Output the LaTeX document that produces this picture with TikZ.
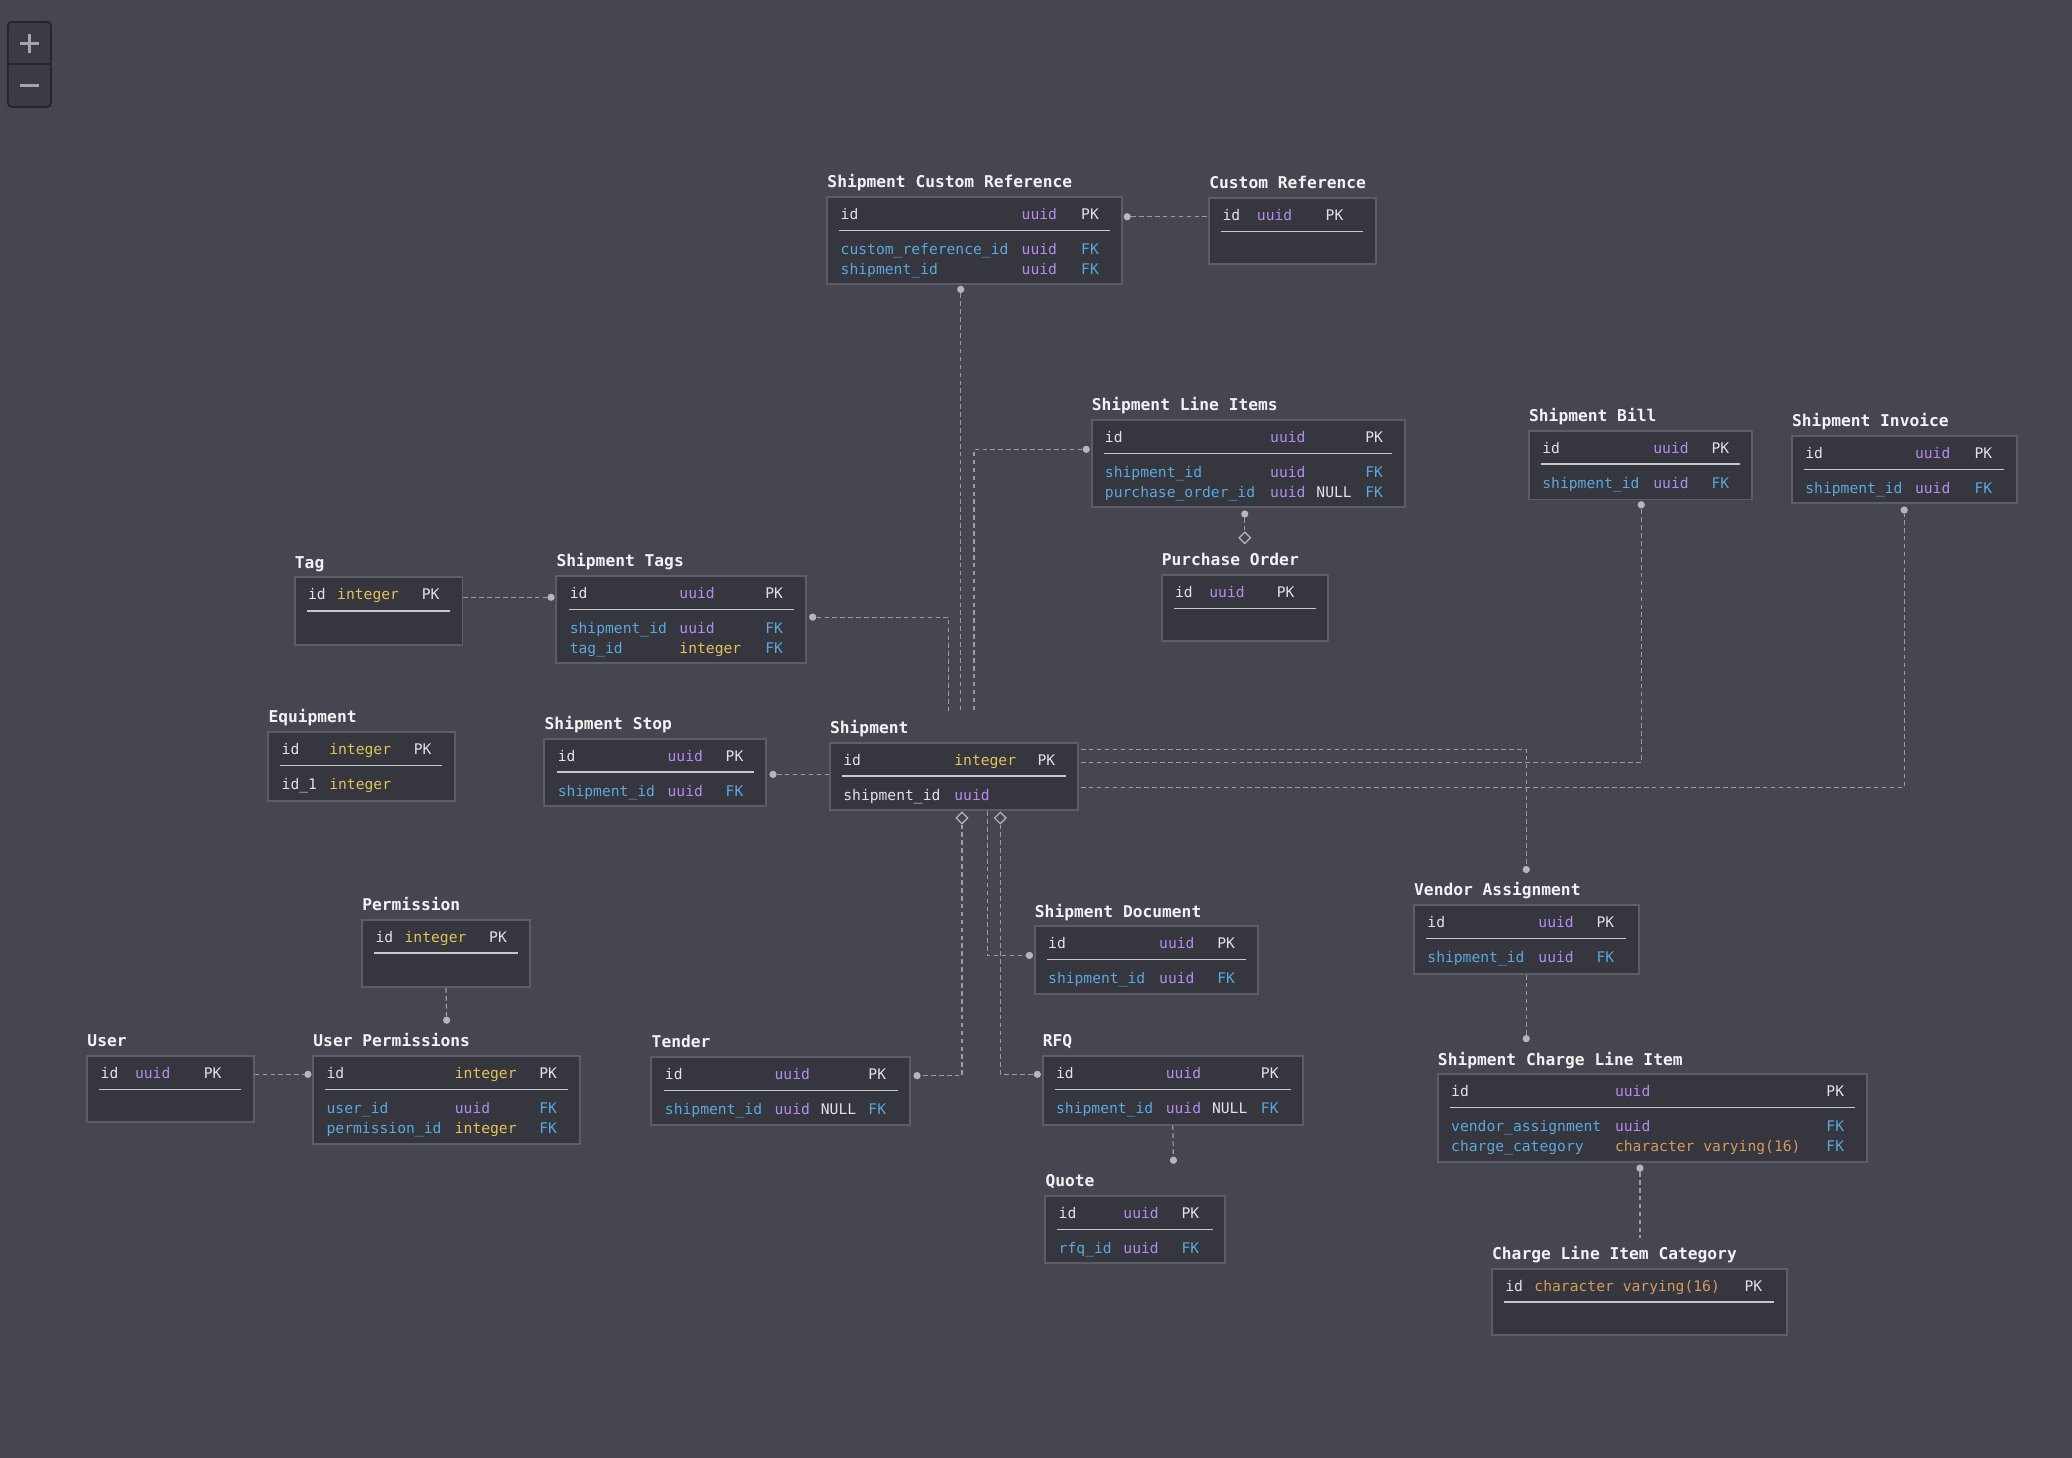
\documentclass[tikz,border=0pt]{standalone}
\usepackage{fontspec}
\setmonofont{DejaVu Sans Mono}
\usetikzlibrary{fit,shapes.geometric}

\definecolor{bgcol}{HTML}{45464F}
\definecolor{boxfill}{HTML}{35363E}
\definecolor{boxedge}{HTML}{5C5D67}
\definecolor{seplinecol}{HTML}{C8C8CC}
\definecolor{ttlcol}{HTML}{F2F2F4}
\definecolor{txt}{HTML}{E2E2E6}
\definecolor{uu}{HTML}{B48CF0}
\definecolor{int}{HTML}{E3C25A}
\definecolor{chr}{HTML}{D69A5E}
\definecolor{fk}{HTML}{5AA8DE}
\definecolor{conncol}{HTML}{9C9CA6}
\definecolor{dotcol}{HTML}{B6B6BE}
\definecolor{zfill}{HTML}{3A3B45}
\definecolor{zedge}{HTML}{26272E}
\definecolor{zsigncol}{HTML}{A4A5AE}

\begin{document}
\begin{tikzpicture}[
  x=1pt, y=-1pt,
  every node/.style = {font=\ttfamily},
  tblbox/.style = {draw=boxedge, fill=boxfill, line width=1.5pt, inner sep=0pt},
  ttl/.style = {anchor=base west, inner sep=0pt, text=ttlcol,
                font=\ttfamily\bfseries\fontsize{12.3}{14}\selectfont},
  rowtxt/.style = {anchor=base west, inner sep=0pt,
                   font=\ttfamily\fontsize{11.1}{13}\selectfont},
  sepline/.style = {draw=seplinecol, line width=1pt},
  conn/.style = {draw=conncol, line width=0.9pt, dash pattern=on 3.5pt off 2.5pt},
  dot/.style = {circle, fill=dotcol, inner sep=0pt, minimum size=5.5pt},
  dmd/.style = {diamond, draw=dotcol, fill=bgcol, line width=0.9pt,
                inner sep=0pt, minimum size=9pt},
  zbtn/.style = {draw=zedge, fill=zfill, line width=1.5pt, rounded corners=3pt, inner sep=0pt},
  zsign/.style = {draw=zsigncol, line width=2.3pt},
]

%% ── Canvas ───────────────────────────────────────────────────────────────────
\fill[bgcol] (0,0) rectangle (1568,1103);
\useasboundingbox (0,0) rectangle (1568,1103);

%% ── Helpers: table box + title + rule, one row, one field ───────────────────
% rows sit 12 / 38.5 / 53.5 below the box top
\def\rA{12}
\def\rB{38.5}
\def\rC{53.5}
\def\tbl#1#2#3#4#5#6{%
  \def\tL{#3}\def\tT{#4}%
  \node[tblbox, fit={(#3,#4) (#5,#6)}] (#1) {};
  \node[ttl] (#1-t) at (#3,#4-7) {#2};
  \draw[sepline] ([xshift=10pt,yshift=-26pt]#1.north west)
    -- ([xshift=-10pt,yshift=-26pt]#1.north east);
}
\def\erow#1#2#3{\node[rowtxt] (#1) at (\tL+10,\tT+#2+5) {#3};}
\def\fld#1#2#3{\makebox[#1pt][l]{\color{#2}#3}}

%% ── Zoom control ─────────────────────────────────────────────────────────────
\node[zbtn, fit={(6,16.5) (38.6,81)}] (zctl) {};
\draw[draw=zedge, line width=1.5pt] (zctl.west) -- (zctl.east);
\draw[zsign] ([xshift=-7pt,yshift=16pt]zctl.center) -- ([xshift=7pt,yshift=16pt]zctl.center);
\draw[zsign] ([yshift=9pt]zctl.center) -- ([yshift=23pt]zctl.center);
\draw[zsign] ([xshift=-7pt,yshift=-16pt]zctl.center) -- ([xshift=7pt,yshift=-16pt]zctl.center);

%% ── Shipment Custom Reference / Custom Reference ────────────────────────────
\tbl{scr}{Shipment Custom Reference}{626}{149}{849}{215}
\erow{scr-1}{\rA}{\fld{137}{txt}{id}\fld{45}{uu}{uuid}\fld{0}{txt}{PK}}
\erow{scr-2}{\rB}{\fld{137}{fk}{custom\_reference\_id}\fld{45}{uu}{uuid}\fld{0}{fk}{FK}}
\erow{scr-3}{\rC}{\fld{137}{fk}{shipment\_id}\fld{45}{uu}{uuid}\fld{0}{fk}{FK}}

\tbl{cref}{Custom Reference}{915}{150}{1041}{200}
\erow{cref-1}{\rA}{\fld{26}{txt}{id}\fld{52}{uu}{uuid}\fld{0}{txt}{PK}}

%% ── Shipment Line Items / Purchase Order ────────────────────────────────────
\tbl{sli}{Shipment Line Items}{826}{318}{1063}{384}
\erow{sli-1}{\rA}{\fld{125}{txt}{id}\fld{72}{uu}{uuid}\fld{0}{txt}{PK}}
\erow{sli-2}{\rB}{\fld{125}{fk}{shipment\_id}\fld{72}{uu}{uuid}\fld{0}{fk}{FK}}
\erow{sli-3}{\rC}{\fld{125}{fk}{purchase\_order\_id}\fld{35}{uu}{uuid}\fld{37}{txt}{NULL}\fld{0}{fk}{FK}}

\tbl{po}{Purchase Order}{879}{435}{1005}{485}
\erow{po-1}{\rA}{\fld{26}{txt}{id}\fld{51}{uu}{uuid}\fld{0}{txt}{PK}}

%% ── Shipment Bill / Shipment Invoice ────────────────────────────────────────
\tbl{sbill}{Shipment Bill}{1157}{326}{1326}{378}
\erow{sbill-1}{\rA}{\fld{84}{txt}{id}\fld{44}{uu}{uuid}\fld{0}{txt}{PK}}
\erow{sbill-2}{\rB}{\fld{84}{fk}{shipment\_id}\fld{44}{uu}{uuid}\fld{0}{fk}{FK}}

\tbl{sinv}{Shipment Invoice}{1356}{330}{1526}{381}
\erow{sinv-1}{\rA}{\fld{83}{txt}{id}\fld{45}{uu}{uuid}\fld{0}{txt}{PK}}
\erow{sinv-2}{\rB}{\fld{83}{fk}{shipment\_id}\fld{45}{uu}{uuid}\fld{0}{fk}{FK}}

%% ── Tag / Shipment Tags ─────────────────────────────────────────────────────
\tbl{tag}{Tag}{223}{437}{350}{488}
\erow{tag-1}{\rA}{\fld{22}{txt}{id}\fld{64}{int}{integer}\fld{0}{txt}{PK}}

\tbl{stags}{Shipment Tags}{421}{436}{610}{502}
\erow{stags-1}{\rA}{\fld{83}{txt}{id}\fld{65}{uu}{uuid}\fld{0}{txt}{PK}}
\erow{stags-2}{\rB}{\fld{83}{fk}{shipment\_id}\fld{65}{uu}{uuid}\fld{0}{fk}{FK}}
\erow{stags-3}{\rC}{\fld{83}{fk}{tag\_id}\fld{65}{int}{integer}\fld{0}{fk}{FK}}

%% ── Equipment / Shipment Stop / Shipment ────────────────────────────────────
\tbl{equip}{Equipment}{203}{554}{344}{606}
\erow{equip-1}{\rA}{\fld{36}{txt}{id}\fld{64}{int}{integer}\fld{0}{txt}{PK}}
\erow{equip-2}{\rB}{\fld{36}{txt}{id\_1}\fld{64}{int}{integer}}

\tbl{sstop}{Shipment Stop}{412}{559}{580}{610}
\erow{sstop-1}{\rA}{\fld{83}{txt}{id}\fld{44}{uu}{uuid}\fld{0}{txt}{PK}}
\erow{sstop-2}{\rB}{\fld{83}{fk}{shipment\_id}\fld{44}{uu}{uuid}\fld{0}{fk}{FK}}

\tbl{ship}{Shipment}{628}{562}{816}{613}
\erow{ship-1}{\rA}{\fld{84}{txt}{id}\fld{63}{int}{integer}\fld{0}{txt}{PK}}
\erow{ship-2}{\rB}{\fld{84}{txt}{shipment\_id}\fld{63}{uu}{uuid}}

%% ── Shipment Document / Vendor Assignment ───────────────────────────────────
\tbl{sdoc}{Shipment Document}{783}{701}{952}{752}
\erow{sdoc-1}{\rA}{\fld{84}{txt}{id}\fld{44}{uu}{uuid}\fld{0}{txt}{PK}}
\erow{sdoc-2}{\rB}{\fld{84}{fk}{shipment\_id}\fld{44}{uu}{uuid}\fld{0}{fk}{FK}}

\tbl{vend}{Vendor Assignment}{1070}{685}{1240}{737}
\erow{vend-1}{\rA}{\fld{84}{txt}{id}\fld{44}{uu}{uuid}\fld{0}{txt}{PK}}
\erow{vend-2}{\rB}{\fld{84}{fk}{shipment\_id}\fld{44}{uu}{uuid}\fld{0}{fk}{FK}}

%% ── Charge line items ───────────────────────────────────────────────────────
\tbl{scli}{Shipment Charge Line Item}{1088}{813}{1413}{879}
\erow{scli-1}{\rA}{\fld{124}{txt}{id}\fld{160}{uu}{uuid}\fld{0}{txt}{PK}}
\erow{scli-2}{\rB}{\fld{124}{fk}{vendor\_assignment}\fld{160}{uu}{uuid}\fld{0}{fk}{FK}}
\erow{scli-3}{\rC}{\fld{124}{fk}{charge\_category}\fld{160}{chr}{character varying(16)}\fld{0}{fk}{FK}}

\tbl{clic}{Charge Line Item Category}{1129}{960}{1352}{1010}
\erow{clic-1}{\rA}{\fld{22}{txt}{id}\fld{159}{chr}{character varying(16)}\fld{0}{txt}{PK}}

%% ── Users and permissions ───────────────────────────────────────────────────
\tbl{perm}{Permission}{274}{696}{401}{747}
\erow{perm-1}{\rA}{\fld{22}{txt}{id}\fld{64}{int}{integer}\fld{0}{txt}{PK}}

\tbl{user}{User}{66}{799}{192}{849}
\erow{user-1}{\rA}{\fld{26}{txt}{id}\fld{52}{uu}{uuid}\fld{0}{txt}{PK}}

\tbl{uperm}{User Permissions}{237}{799}{439}{866}
\erow{uperm-1}{\rA}{\fld{97}{txt}{id}\fld{64}{int}{integer}\fld{0}{txt}{PK}}
\erow{uperm-2}{\rB}{\fld{97}{fk}{user\_id}\fld{64}{uu}{uuid}\fld{0}{fk}{FK}}
\erow{uperm-3}{\rC}{\fld{97}{fk}{permission\_id}\fld{64}{int}{integer}\fld{0}{fk}{FK}}

%% ── Tender / RFQ / Quote ────────────────────────────────────────────────────
\tbl{tender}{Tender}{493}{800}{689}{851}
\erow{tender-1}{\rA}{\fld{83}{txt}{id}\fld{71}{uu}{uuid}\fld{0}{txt}{PK}}
\erow{tender-2}{\rB}{\fld{83}{fk}{shipment\_id}\fld{35}{uu}{uuid}\fld{36}{txt}{NULL}\fld{0}{fk}{FK}}

\tbl{rfq}{RFQ}{789}{799}{986}{851}
\erow{rfq-1}{\rA}{\fld{83}{txt}{id}\fld{72}{uu}{uuid}\fld{0}{txt}{PK}}
\erow{rfq-2}{\rB}{\fld{83}{fk}{shipment\_id}\fld{35}{uu}{uuid}\fld{37}{txt}{NULL}\fld{0}{fk}{FK}}

\tbl{quote}{Quote}{791}{905}{927}{956}
\erow{quote-1}{\rA}{\fld{49}{txt}{id}\fld{44}{uu}{uuid}\fld{0}{txt}{PK}}
\erow{quote-2}{\rB}{\fld{49}{fk}{rfq\_id}\fld{44}{uu}{uuid}\fld{0}{fk}{FK}}

%% ── Connector ends ──────────────────────────────────────────────────────────
\coordinate (ship-in1) at (718,538);
\coordinate (ship-in2) at (727,538);
\coordinate (ship-in3) at (737,538);
\coordinate (ship-o1) at (818,567);
\coordinate (ship-o2) at (818,577);
\coordinate (ship-o3) at (818,596);
\coordinate (ship-o4) at (747,614);
\coordinate (clic-in) at (1241,937);

\node[dot] (scr-d1) at (853,164) {};
\node[dot] (scr-d2) at (727,219) {};
\node[dot] (sli-d1) at (822,340) {};
\node[dot] (sli-d2) at (942,389) {};
\node[dot] (stags-d1) at (417,452) {};
\node[dot] (stags-d2) at (615,467) {};
\node[dot] (sbill-d) at (1242,382) {};
\node[dot] (sinv-d) at (1441,386) {};
\node[dot] (sstop-d) at (585,586) {};
\node[dot] (vend-d1) at (1155,658) {};
\node[dot] (vend-d2) at (1155,786) {};
\node[dot] (sdoc-d) at (779,723) {};
\node[dot] (tender-d) at (694,814) {};
\node[dot] (rfq-d1) at (785,813) {};
\node[dot] (rfq-d2) at (888,878) {};
\node[dot] (scli-d) at (1241,884) {};
\node[dot] (perm-d) at (338,772) {};
\node[dot] (uperm-d) at (233,813) {};
\node[dmd] (po-dm) at (942,407) {};
\node[dmd] (ship-dm1) at (728,619) {};
\node[dmd] (ship-dm2) at (757,619) {};

%% ── Connectors ──────────────────────────────────────────────────────────────
\draw[conn] (scr-d1) -- (scr-d1 -| cref.west);
\draw[conn] (scr-d2) -- (ship-in2);
\draw[conn] (sli-d1) -| (ship-in3);
\draw[conn] (stags-d2) -| (ship-in1);
\draw[conn] (tag.east |- stags-d1) -- (stags-d1);
\draw[conn] (sstop-d) -- (sstop-d -| ship.west);
\draw[conn] (ship-o1) -| (vend-d1);
\draw[conn] (ship-o2) -| (sbill-d);
\draw[conn] (ship-o3) -| (sinv-d);
\draw[conn] (ship-dm1) |- (tender-d);
\draw[conn] (ship-o4) |- (sdoc-d);
\draw[conn] (ship-dm2) |- (rfq-d1);
\draw[conn] (sli-d2) -- (po-dm);
\draw[conn] (vend.south) -- (vend-d2);
\draw[conn] (scli-d) -- (clic-in);
\draw[conn] (perm.south) -- (perm-d);
\draw[conn] (user.east |- uperm-d) -- (uperm-d);
\draw[conn] (rfq.south) -- (rfq-d2);

\end{tikzpicture}
\end{document}
